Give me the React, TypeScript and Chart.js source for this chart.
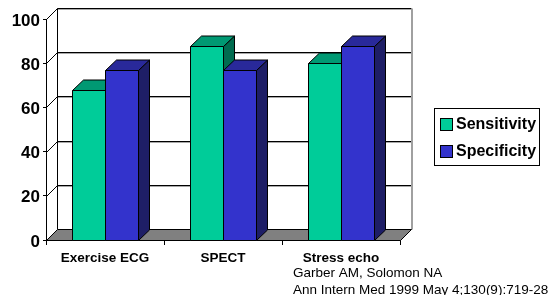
import React, { useEffect, useRef } from "react";
import { Chart, registerables } from "chart.js";

Chart.register(...registerables);

const categories = ["Exercise ECG", "SPECT", "Stress echo"];
const seriesNames = ["Sensitivity", "Specificity"];
const sensitivity = [68, 88, 80];
const specificity = [77, 77, 88];
const yTickValues = [0, 20, 40, 60, 80, 100];
const citationLines = ["Garber AM, Solomon NA", "Ann Intern Med 1999 May 4;130(9):719-28"];

// [front, top, side] colours per series
const faceColors = [
  ["#00CC99", "#009973", "#006B4F"],
  ["#3333CC", "#29299A", "#1E1E66"],
];

const WALL_DX = 11;
const WALL_DY = -11;
const BAR_DX = 11;
const BAR_DY = -10.5;

function line(ctx: CanvasRenderingContext2D, x1: number, y1: number, x2: number, y2: number) {
  ctx.beginPath();
  ctx.moveTo(x1, y1);
  ctx.lineTo(x2, y2);
  ctx.stroke();
}

function poly(ctx: CanvasRenderingContext2D, pts: number[][], fill: string) {
  ctx.beginPath();
  ctx.moveTo(pts[0][0], pts[0][1]);
  for (let i = 1; i < pts.length; i++) ctx.lineTo(pts[i][0], pts[i][1]);
  ctx.closePath();
  ctx.fillStyle = fill;
  ctx.fill();
  ctx.strokeStyle = "#000";
  ctx.lineWidth = 1;
  ctx.stroke();
}

const threeDPlugin = {
  id: "threeD",
  beforeDatasetsDraw(chart: any) {
    const { ctx, chartArea } = chart;
    const ys = chart.scales.y;
    const left = Math.round(chartArea.left) + 0.5;
    const right = Math.round(chartArea.right) + 0.5;
    const top = Math.round(chartArea.top) + 0.5;
    const bottom = Math.round(chartArea.bottom) + 0.5;
    ctx.save();
    ctx.lineWidth = 1;

    // back wall and left wall grid lines
    yTickValues.forEach((v) => {
      if (v === 0) return;
      const fy = Math.round(ys.getPixelForValue(v)) + 0.5;
      const by = fy + WALL_DY;
      ctx.strokeStyle = "#a8a8a8";
      line(ctx, left + WALL_DX, by + 1, right + WALL_DX, by + 1);
      ctx.strokeStyle = "#000";
      line(ctx, left + WALL_DX, by, right + WALL_DX, by);
      line(ctx, left, fy, left + WALL_DX, by);
    });
    // back wall edges
    ctx.strokeStyle = "#000";
    line(ctx, left + WALL_DX, top + WALL_DY, left + WALL_DX, bottom + WALL_DY);
    ctx.strokeStyle = "#a0a0a0";
    ctx.lineWidth = 2;
    line(ctx, right + WALL_DX + 0.5, top + WALL_DY, right + WALL_DX + 0.5, bottom + WALL_DY);
    ctx.lineWidth = 1;

    // floor
    poly(
      ctx,
      [
        [left, bottom],
        [right, bottom],
        [right + WALL_DX, bottom + WALL_DY],
        [left + WALL_DX, bottom + WALL_DY],
      ],
      "#808080"
    );

    // bars
    const metas = chart.data.datasets.map((_: any, i: number) => chart.getDatasetMeta(i));
    for (let c = 0; c < categories.length; c++) {
      metas.forEach((meta: any, d: number) => {
        const el = meta.data[c];
        if (!el) return;
        const x0 = Math.round(el.x - el.width / 2) + 0.5;
        const x1 = Math.round(el.x + el.width / 2) + 0.5;
        const yt = Math.round(el.y) + 0.5;
        const yb = Math.round(el.base) + 0.5;
        const [front, topC, side] = faceColors[d];
        poly(
          ctx,
          [
            [x1, yt],
            [x1 + BAR_DX, yt + BAR_DY],
            [x1 + BAR_DX, yb + BAR_DY],
            [x1, yb],
          ],
          side
        );
        poly(
          ctx,
          [
            [x0, yt],
            [x1, yt],
            [x1 + BAR_DX, yt + BAR_DY],
            [x0 + BAR_DX, yt + BAR_DY],
          ],
          topC
        );
        poly(
          ctx,
          [
            [x0, yt],
            [x1, yt],
            [x1, yb],
            [x0, yb],
          ],
          front
        );
      });
    }
    ctx.restore();
    return false;
  },
  afterDraw(chart: any) {
    const { ctx } = chart;
    ctx.save();
    // legend box
    ctx.strokeStyle = "#000";
    ctx.lineWidth = 1;
    ctx.strokeRect(434.5, 108.5, 105, 57);
    ctx.font = "bold 16px Arial, 'Liberation Sans', sans-serif";
    ctx.textBaseline = "middle";
    ctx.textAlign = "left";
    seriesNames.forEach((name, i) => {
      const cy = 123.5 + i * 27;
      ctx.fillStyle = faceColors[i][0];
      ctx.fillRect(440.5, Math.round(cy - 6) + 0.5, 12, 12);
      ctx.strokeRect(440.5, Math.round(cy - 6) + 0.5, 12, 12);
      ctx.fillStyle = "#000";
      ctx.fillText(name, 456, cy + 1);
    });
    // citation
    ctx.font = "13.5px Arial, 'Liberation Sans', sans-serif";
    ctx.fillStyle = "#000";
    citationLines.forEach((t, i) => {
      ctx.fillText(t, 293, 273.5 + i * 17);
    });
    ctx.restore();
  },
};

export default function App() {
  const ref = useRef<HTMLCanvasElement>(null);
  useEffect(() => {
    const chart = new Chart(ref.current as HTMLCanvasElement, {
      type: "bar",
      data: {
        labels: categories,
        datasets: [
          { label: seriesNames[0], data: sensitivity, backgroundColor: faceColors[0][0] },
          { label: seriesNames[1], data: specificity, backgroundColor: faceColors[1][0] },
        ],
      },
      options: {
        animation: false,
        responsive: false,
        devicePixelRatio: 1,
        layout: { padding: { top: 19, right: 155, left: 0, bottom: 0 } },
        datasets: { bar: { categoryPercentage: 0.567, barPercentage: 1 } },
        plugins: { legend: { display: false }, tooltip: { enabled: false } },
        scales: {
          x: {
            grid: { offset: true, drawOnChartArea: false, tickLength: 5, color: "#000" },
            border: { display: true, color: "#000" },
            ticks: {
              color: "#000",
              padding: 5,
              maxRotation: 0,
              font: { family: "Arial, 'Liberation Sans', sans-serif", weight: "bold", size: 13.5 },
            },
            afterFit: (s: any) => {
              s.height = 55;
            },
          },
          y: {
            min: 0,
            max: 100,
            grid: { drawOnChartArea: false, tickLength: 3, color: "#000" },
            border: { display: true, color: "#000" },
            ticks: {
              stepSize: 20,
              color: "#000",
              padding: 3,
              labelOffset: 2,
              font: { family: "Arial, 'Liberation Sans', sans-serif", weight: "bold", size: 17 },
            },
            afterFit: (s: any) => {
              s.width = 46;
            },
          },
        },
      } as any,
      plugins: [threeDPlugin],
    });
    return () => chart.destroy();
  }, []);
  return (
    <div style={{ position: "fixed", left: 0, top: 0, width: 555, height: 295, background: "#fff" }}>
      <canvas ref={ref} width={555} height={295} style={{ display: "block" }} />
    </div>
  );
}
